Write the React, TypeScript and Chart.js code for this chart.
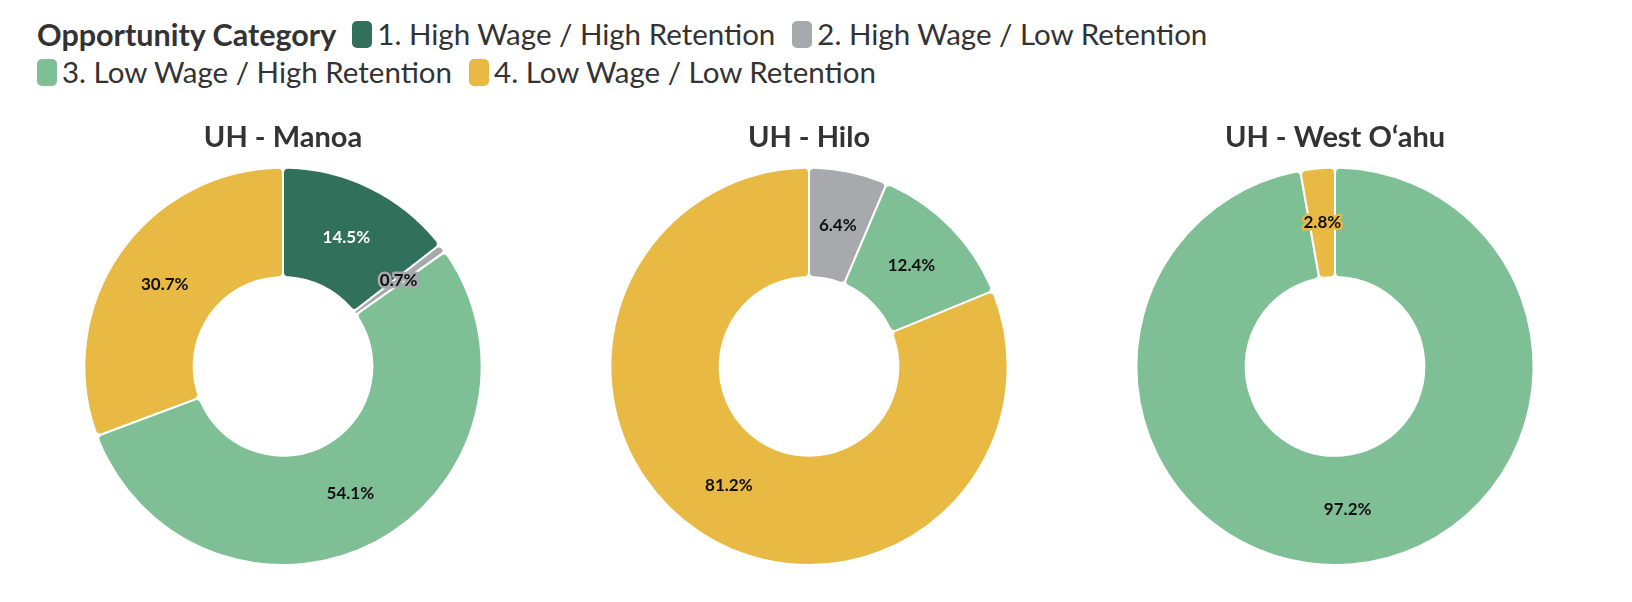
import React, { useEffect, useRef } from "react";
import { Chart, registerables } from "chart.js";

Chart.register(...registerables);

const legendTitle = "Opportunity Category";
const categories = [
  "1. High Wage / High Retention",
  "2. High Wage / Low Retention",
  "3. Low Wage / High Retention",
  "4. Low Wage / Low Retention",
];
const categoryColors = ["#31705B", "#A7A9AC", "#7FBF96", "#E8B943"];
const labelColors = ["#FFFFFF", "#111111", "#111111", "#111111"];

const campuses = ["UH - Manoa", "UH - Hilo", "UH - West O‘ahu"];
const manoaValues = [14.5, 0.7, 54.1, 30.7];
const hiloValues = [0, 6.4, 12.4, 81.2];
const westOahuValues = [0, 0, 97.2, 2.8];
const campusValues = [manoaValues, hiloValues, westOahuValues];

const FONT = "Lato, 'Open Sans', sans-serif";
const TEXT = "#333333";

const sliceLabels = {
  id: "sliceLabels",
  afterDatasetsDraw(chart: any) {
    const { ctx } = chart;
    const meta = chart.getDatasetMeta(0);
    const data = chart.data.datasets[0].data as number[];
    ctx.save();
    ctx.font = `bold 17px ${FONT}`;
    ctx.textAlign = "center";
    ctx.textBaseline = "middle";
    ctx.lineJoin = "round";
    meta.data.forEach((arc: any, i: number) => {
      const v = data[i];
      if (!v) return;
      const p = arc.tooltipPosition(false);
      const text = v.toFixed(1) + "%";
      ctx.lineWidth = 5;
      ctx.strokeStyle = categoryColors[i];
      ctx.strokeText(text, p.x, p.y);
      ctx.fillStyle = labelColors[i];
      ctx.fillText(text, p.x, p.y);
    });
    ctx.restore();
  },
};

function Donut({ title, values, left }: { title: string; values: number[]; left: number }) {
  const ref = useRef<HTMLCanvasElement | null>(null);
  useEffect(() => {
    if (!ref.current) return;
    const chart = new Chart(ref.current, {
      type: "doughnut",
      data: {
        labels: categories,
        datasets: [
          {
            data: values,
            backgroundColor: categoryColors,
            borderColor: "#FFFFFF",
            borderWidth: (c: any) => (c.raw > 0 ? 2 : 0),
            borderRadius: 5,
          },
        ],
      },
      options: {
        responsive: false,
        animation: false,
        cutout: "45%",
        layout: { padding: { bottom: 4 } },
        plugins: {
          legend: { display: false },
          tooltip: { enabled: false },
          title: {
            display: true,
            text: title,
            color: TEXT,
            font: { family: FONT, size: 29, weight: "bold", lineHeight: 1.2 },
            padding: { top: 10, bottom: 12 },
          },
        },
      },
      plugins: [sliceLabels],
    } as any);
    return () => chart.destroy();
  }, [title, values]);
  return (
    <div style={{ position: "absolute", left, top: 110, width: 526, height: 460 }}>
      <canvas ref={ref} width={526} height={460} style={{ width: 526, height: 460 }} />
    </div>
  );
}

function LegendItem({ index }: { index: number }) {
  return (
    <span style={{ display: "inline-flex", alignItems: "center", marginRight: 17 }}>
      <span
        style={{
          display: "inline-block",
          width: 20,
          height: 27,
          borderRadius: 5,
          background: categoryColors[index],
          marginRight: 5,
        }}
      />
      <span>{categories[index]}</span>
    </span>
  );
}

export default function App() {
  const rows = [
    [0, 1],
    [2, 3],
  ];
  return (
    <div
      style={{
        position: "absolute",
        left: 0,
        top: 0,
        width: 1632,
        height: 602,
        background: "#FFFFFF",
        overflow: "hidden",
      }}
    >
      <div
        style={{
          position: "absolute",
          left: 37,
          top: 15,
          fontFamily: FONT,
          fontSize: 29.5,
          lineHeight: "38px",
          color: TEXT,
          whiteSpace: "nowrap",
        }}
      >
        {rows.map((row, r) => (
          <div key={r} style={{ display: "flex", alignItems: "center", height: 38 }}>
            {r === 0 && (
              <span style={{ fontWeight: 700, fontSize: 30.5, marginRight: 16 }}>{legendTitle}</span>
            )}
            {row.map((i) => (
              <LegendItem key={i} index={i} />
            ))}
          </div>
        ))}
      </div>
      {campuses.map((c, i) => (
        <Donut key={c} title={c} values={campusValues[i]} left={20 + i * 526} />
      ))}
    </div>
  );
}
